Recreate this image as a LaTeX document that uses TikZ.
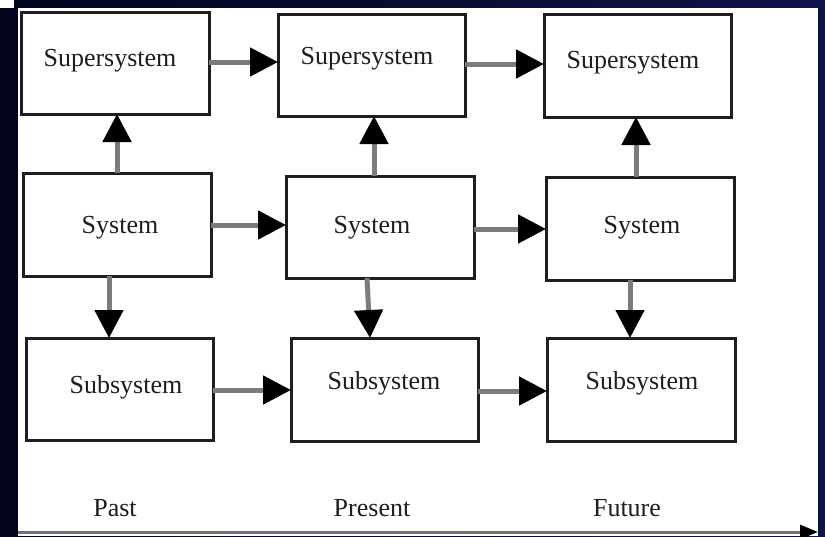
\documentclass[tikz,border=0pt]{standalone}
\usepackage{fontspec}
\setmainfont{Liberation Serif}
\usetikzlibrary{arrows.meta}
\definecolor{navy}{HTML}{02041C}
\definecolor{navylight}{HTML}{0E1448}
\definecolor{shaft}{HTML}{7C7C7C}
\definecolor{ink}{HTML}{1E1E1E}
\begin{document}
\begin{tikzpicture}[x=1pt,y=-1pt,
  levelbox/.style={draw=ink,line width=3pt,fill=white,rectangle,inner sep=0pt,outer sep=0pt},
  boxtext/.style={font=\fontsize{26}{30}\selectfont,text=ink,inner sep=0pt},
  conn/.style={draw=shaft,line width=5pt,-{Triangle[length=28pt,width=28pt,color=black,fill=black]},shorten <=0pt},
  timeaxis/.style={draw=shaft!90!black,line width=3pt,-{Triangle[length=18pt,width=14pt,color=black,fill=black]}}]
\useasboundingbox (0,0) rectangle (825,536);

% backdrop and white page
\shade[left color=navy,right color=navylight] (0,0) rectangle (825,536);
\fill[white] (18,8) rectangle (818,536);
\fill[white] (0,0) rectangle (14,8);

% level boxes
\node[levelbox,minimum width=188pt,minimum height=102pt] (s1) at (115,63) {};
\node[levelbox,minimum width=187pt,minimum height=102pt] (s2) at (371.5,65) {};
\node[levelbox,minimum width=187pt,minimum height=103pt] (s3) at (637.5,65.5) {};
\node[levelbox,minimum width=188pt,minimum height=103pt] (y1) at (117,224.5) {};
\node[levelbox,minimum width=188pt,minimum height=102pt] (y2) at (380,227) {};
\node[levelbox,minimum width=188pt,minimum height=103pt] (y3) at (640,228.5) {};
\node[levelbox,minimum width=187pt,minimum height=102pt] (b1) at (119.5,389) {};
\node[levelbox,minimum width=187pt,minimum height=103pt] (b2) at (384.5,389.5) {};
\node[levelbox,minimum width=188pt,minimum height=103pt] (b3) at (641,389.5) {};

% box captions
\node[boxtext] (ts1) at (110,61) {Supersystem};
\node[boxtext] (ts2) at (367,59) {Supersystem};
\node[boxtext] (ts3) at (633,63) {Supersystem};
\node[boxtext] (ty1) at (120,228) {System};
\node[boxtext] (ty2) at (372,228) {System};
\node[boxtext] (ty3) at (642,228) {System};
\node[boxtext] (tb1) at (126,387) {Subsystem};
\node[boxtext] (tb2) at (384,383) {Subsystem};
\node[boxtext] (tb3) at (642,383) {Subsystem};

% evolution in time
\draw[conn] ([yshift=1pt]s1.east) -- ([yshift=3pt]s2.west);
\draw[conn] ([yshift=1pt]s2.east) -- ([yshift=1.5pt]s3.west);
\draw[conn] ([yshift=-0.5pt]y1.east) -- ([yshift=2pt]y2.west);
\draw[conn] ([yshift=-2pt]y2.east) -- ([yshift=-0.5pt]y3.west);
\draw[conn] ([yshift=-1pt]b1.east) -- ([yshift=-0.5pt]b2.west);
\draw[conn] ([yshift=-1.5pt]b2.east) -- ([yshift=-1.5pt]b3.west);

% system to supersystem
\draw[conn] (y1.north) -- ([xshift=2pt]s1.south);
\draw[conn] ([xshift=-6pt]y2.north) -- ([xshift=2.5pt]s2.south);
\draw[conn] ([xshift=-4pt]y3.north) -- ([xshift=-1.5pt]s3.south);

% system to subsystem
\draw[conn] ([xshift=-8pt]y1.south) -- ([xshift=-10.5pt]b1.north);
\draw[conn] ([xshift=-13pt]y2.south) -- ([xshift=-14.5pt]b2.north);
\draw[conn] ([xshift=-10pt]y3.south) -- ([xshift=-11pt]b3.north);

% time axis
\coordinate (axisstart) at (18,532);
\coordinate (axisend) at (818,532);
\draw[timeaxis] (axisstart) -- (axisend);
\node[boxtext] (past) at (115,508) {Past};
\node[boxtext] (present) at (372,508) {Present};
\node[boxtext] (future) at (627,508) {Future};
\end{tikzpicture}
\end{document}
